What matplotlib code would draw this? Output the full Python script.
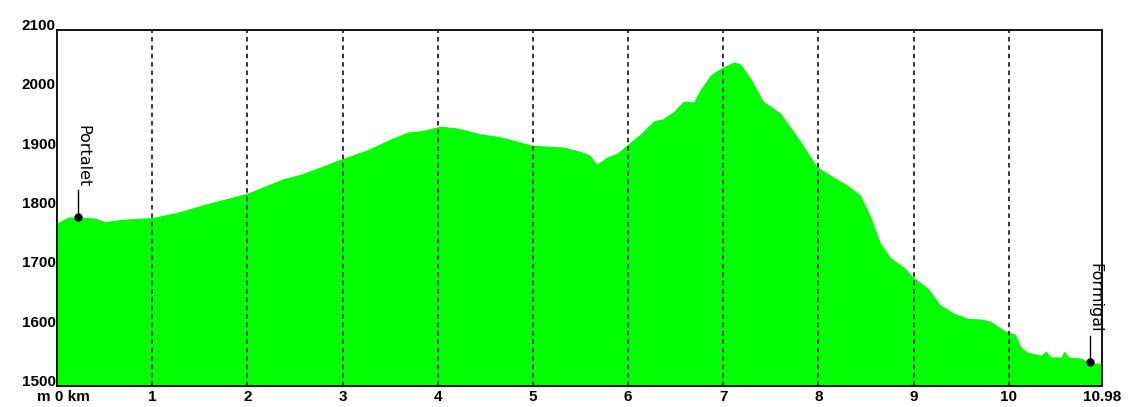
import matplotlib
matplotlib.use("Agg")
import matplotlib.pyplot as plt
import matplotlib.transforms as mtransforms

# elevation profile Portalet -> Formigal
dist_km = [0.00, 0.12, 0.22, 0.40, 0.50, 0.68, 1.00, 1.27, 1.59, 2.00,
           2.37, 2.56, 2.73, 2.99, 3.26, 3.43, 3.68, 3.85, 4.03, 4.20,
           4.45, 4.66, 4.87, 4.99, 5.18, 5.32, 5.53, 5.60, 5.67, 5.78,
           5.89, 6.00, 6.13, 6.27, 6.36, 6.48, 6.58, 6.69, 6.76, 6.87,
           6.99, 7.11, 7.18, 7.29, 7.42, 7.60, 7.78, 7.99, 8.13, 8.30,
           8.44, 8.55, 8.65, 8.76, 8.90, 9.00, 9.15, 9.28, 9.42, 9.57,
           9.71, 9.81, 9.95, 10.07, 10.13, 10.20, 10.34, 10.39, 10.44, 10.55,
           10.58, 10.63, 10.76, 10.85, 10.97, 10.98]
elev_m = [1775, 1785, 1785, 1783, 1777, 1781, 1784, 1793, 1808, 1825,
          1849, 1857, 1867, 1883, 1898, 1911, 1928, 1931, 1938, 1935,
          1925, 1920, 1911, 1906, 1904, 1903, 1894, 1889, 1874, 1886,
          1893, 1908, 1925, 1947, 1950, 1963, 1980, 1979, 2000, 2025,
          2037, 2046, 2043, 2018, 1980, 1960, 1920, 1869, 1855, 1839,
          1822, 1785, 1741, 1716, 1700, 1683, 1665, 1637, 1623, 1614,
          1613, 1609, 1594, 1587, 1565, 1557, 1552, 1559, 1549, 1549,
          1559, 1549, 1547, 1540, 1538, 1541]

# waypoints
wp_names = ["Portalet", "Formigal"]
wp_km = [0.22, 10.85]
wp_elev = [1785, 1540]

x_ticks = [0, 1, 2, 3, 4, 5, 6, 7, 8, 9, 10, 10.98]
x_labels = ["m 0 km", "1", "2", "3", "4", "5", "6", "7", "8", "9", "10", "10.98"]
y_ticks = [1500, 1600, 1700, 1800, 1900, 2000, 2100]

fig = plt.figure(figsize=(11.30, 4.07), dpi=100)
ax = fig.add_axes([57 / 1130, 1 - 386 / 407, 1045 / 1130, 356 / 407])

ax.fill_between(dist_km, elev_m, 1500, color="#00ff00", linewidth=0, zorder=1)

# dashed km lines on top of the fill
for k in range(1, 11):
    ax.axvline(k, color="black", linestyle=(0, (3, 2.5)), linewidth=1.1, zorder=2)

# waypoint markers with vertical names
for name, k, e in zip(wp_names, wp_km, wp_elev):
    ax.plot([k, k], [e, e + 45], color="black", linewidth=1, zorder=3)
    ax.plot(k, e, "o", color="black", markersize=5, zorder=4)
    ax.text(k + 0.05, e + 50, name, rotation=-90, ha="center", va="bottom",
            fontsize=11.5, family="DejaVu Sans", zorder=4)

ax.set_xlim(0, 10.98)
ax.set_ylim(1500, 2100)
ax.set_xticks(x_ticks)
ax.set_xticklabels(x_labels)
ax.set_yticks(y_ticks)
ax.set_yticklabels([str(v) for v in y_ticks])
ax.tick_params(length=0, labelsize=11)
ax.tick_params(axis="x", pad=3)
ax.tick_params(axis="y", pad=1)
for lab in ax.get_xticklabels() + ax.get_yticklabels():
    lab.set_fontfamily("Liberation Sans")
    lab.set_fontweight("bold")
for lab in ax.get_yticklabels():
    lab.set_verticalalignment("baseline")

# nudge "m 0 km" so the 0 sits on the axis
first = ax.get_xticklabels()[0]
first.set_transform(first.get_transform() +
                    mtransforms.ScaledTranslation(6 / 100, 0, fig.dpi_scale_trans))

for s in ax.spines.values():
    s.set_linewidth(1.3)
    s.set_color("black")

fig.savefig("out.png", dpi=100)
